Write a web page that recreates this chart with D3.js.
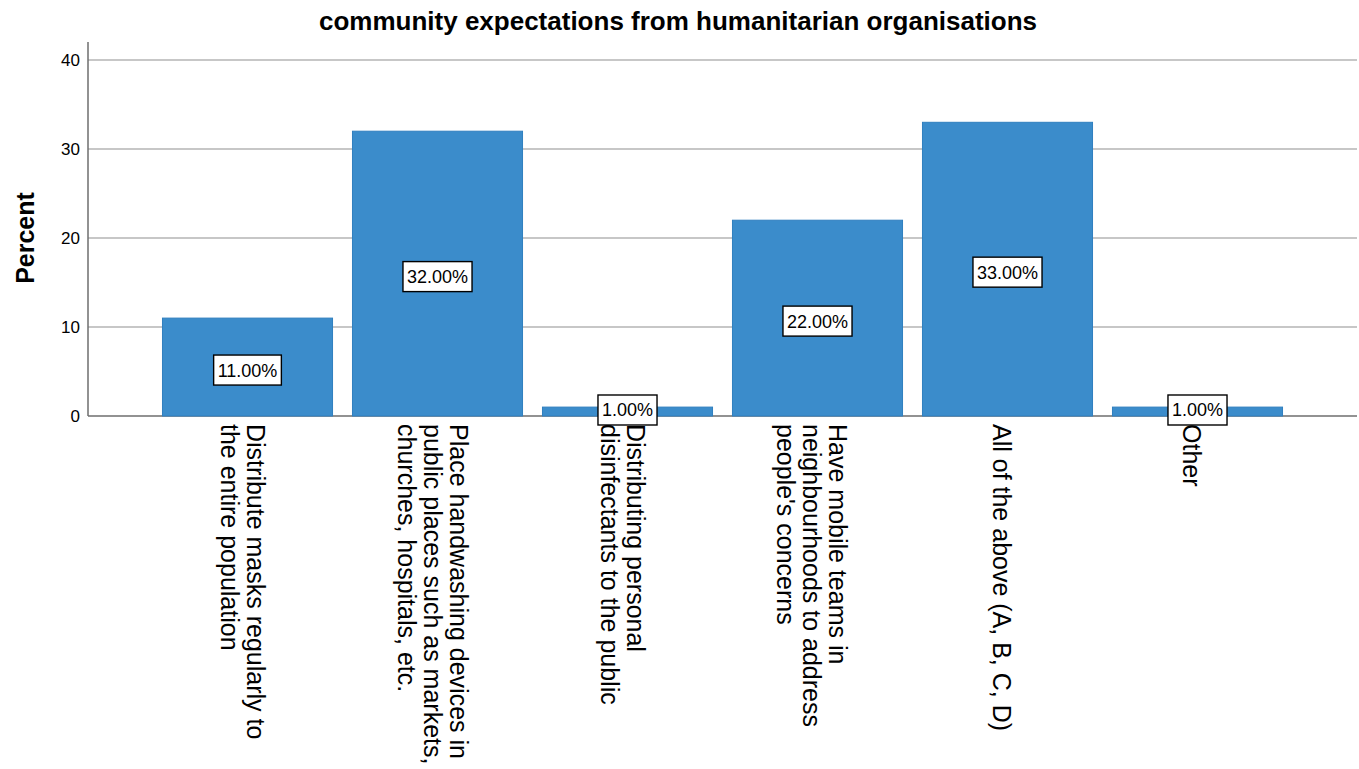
<!DOCTYPE html>
<html>
<head>
<meta charset="utf-8">
<script src="https://cdn.jsdelivr.net/npm/d3@7"></script>
<style>
  html, body { margin: 0; padding: 0; background: #fff; }
  svg { display: block; }
</style>
</head>
<body>
<svg id="chart" width="1359" height="769"></svg>
<script>
// Response categories (each entry is the list of wrapped lines)
const categories = [
  ["Distribute masks regularly to", "the entire population"],
  ["Place handwashing devices in", "public places such as markets,", "churches, hospitals, etc."],
  ["Distributing personal", "disinfectants to the public"],
  ["Have mobile teams in", "neighbourhoods to address", "people's concerns"],
  ["All of the above (A, B, C, D)"],
  ["Other"]
];
const percents = [11, 32, 1, 22, 33, 1];
const yTicks = [0, 10, 20, 30, 40];
const titleText = "community expectations from humanitarian organisations";
const yLabel = "Percent";

(function draw() {
  const svg = d3.select("#chart");
  const font = "Liberation Sans, Arial, sans-serif";
  const plotLeft = 88, plotRight = 1357, plotTop = 42, baseline = 416;

  const x = d3.scaleBand()
    .domain(d3.range(categories.length))
    .range([plotLeft, plotRight])
    .paddingInner(0.105)
    .paddingOuter(0.392);

  const y = d3.scaleLinear().domain([0, 40]).range([baseline, 60]);

  // title
  svg.append("text")
    .attr("x", 678).attr("y", 30)
    .attr("text-anchor", "middle")
    .attr("font-family", font)
    .attr("font-weight", "bold")
    .attr("font-size", 26)
    .text(titleText);

  // y-axis title
  svg.append("text")
    .attr("transform", `translate(34,238) rotate(-90)`)
    .attr("text-anchor", "middle")
    .attr("font-family", font)
    .attr("font-weight", "bold")
    .attr("font-size", 25)
    .text(yLabel);

  // grid lines
  svg.append("g")
    .selectAll("line")
    .data(yTicks.filter(d => d > 0))
    .join("line")
    .attr("x1", plotLeft).attr("x2", plotRight)
    .attr("y1", d => y(d)).attr("y2", d => y(d))
    .attr("stroke", "#b4b4b4")
    .attr("stroke-width", 1.5);

  // y axis with tick labels
  const yAxis = svg.append("g")
    .attr("transform", `translate(${plotLeft},0)`)
    .call(d3.axisLeft(y).tickValues(yTicks).tickSize(0).tickPadding(8));
  yAxis.select(".domain").remove();
  yAxis.selectAll("text")
    .attr("font-family", font)
    .attr("font-size", 17)
    .attr("fill", "#000");
  svg.append("line")
    .attr("x1", plotLeft).attr("x2", plotLeft)
    .attr("y1", plotTop).attr("y2", baseline)
    .attr("stroke", "#6e6e6e").attr("stroke-width", 1.5);

  // baseline
  svg.append("line")
    .attr("x1", plotLeft).attr("x2", plotRight)
    .attr("y1", baseline).attr("y2", baseline)
    .attr("stroke", "#6e6e6e").attr("stroke-width", 1.5);

  // bars
  svg.append("g")
    .selectAll("rect")
    .data(percents)
    .join("rect")
    .attr("x", (d, i) => x(i))
    .attr("y", d => y(d))
    .attr("width", x.bandwidth())
    .attr("height", d => y(0) - y(d))
    .attr("fill", "#3b8ccb")
    .attr("stroke", "#2f7fbf")
    .attr("stroke-width", 1);

  // category labels, rotated to read top-to-bottom
  const lineGap = 26;
  const catG = svg.append("g");
  categories.forEach((lines, i) => {
    const cx = x(i) + x.bandwidth() / 2;
    const n = lines.length;
    const firstX = cx + (n - 1) * lineGap / 2 - 14;
    const t = catG.append("text")
      .attr("transform", `translate(${firstX},424) rotate(90)`)
      .attr("font-family", font)
      .attr("font-size", 25)
      .attr("fill", "#000");
    lines.forEach((ln, k) => {
      t.append("tspan")
        .attr("x", 0)
        .attr("y", k * lineGap)
        .text(ln);
    });
  });

  // value labels in white boxes
  const lblG = svg.append("g");
  percents.forEach((v, i) => {
    const cx = x(i) + x.bandwidth() / 2;
    const cy = Math.min((y(v) + y(0)) / 2 + 3, baseline - 6);
    const g = lblG.append("g").attr("transform", `translate(${cx},${cy})`);
    const txt = g.append("text")
      .attr("text-anchor", "middle")
      .attr("dy", "0.36em")
      .attr("font-family", font)
      .attr("font-size", 18)
      .attr("fill", "#000")
      .text(d3.format(".2f")(v) + "%");
    const bb = txt.node().getBBox();
    g.insert("rect", "text")
      .attr("x", bb.x - 4).attr("y", -15)
      .attr("width", bb.width + 8).attr("height", 30)
      .attr("fill", "#fff")
      .attr("stroke", "#000")
      .attr("stroke-width", 1.4);
  });
})();
</script>
</body>
</html>
